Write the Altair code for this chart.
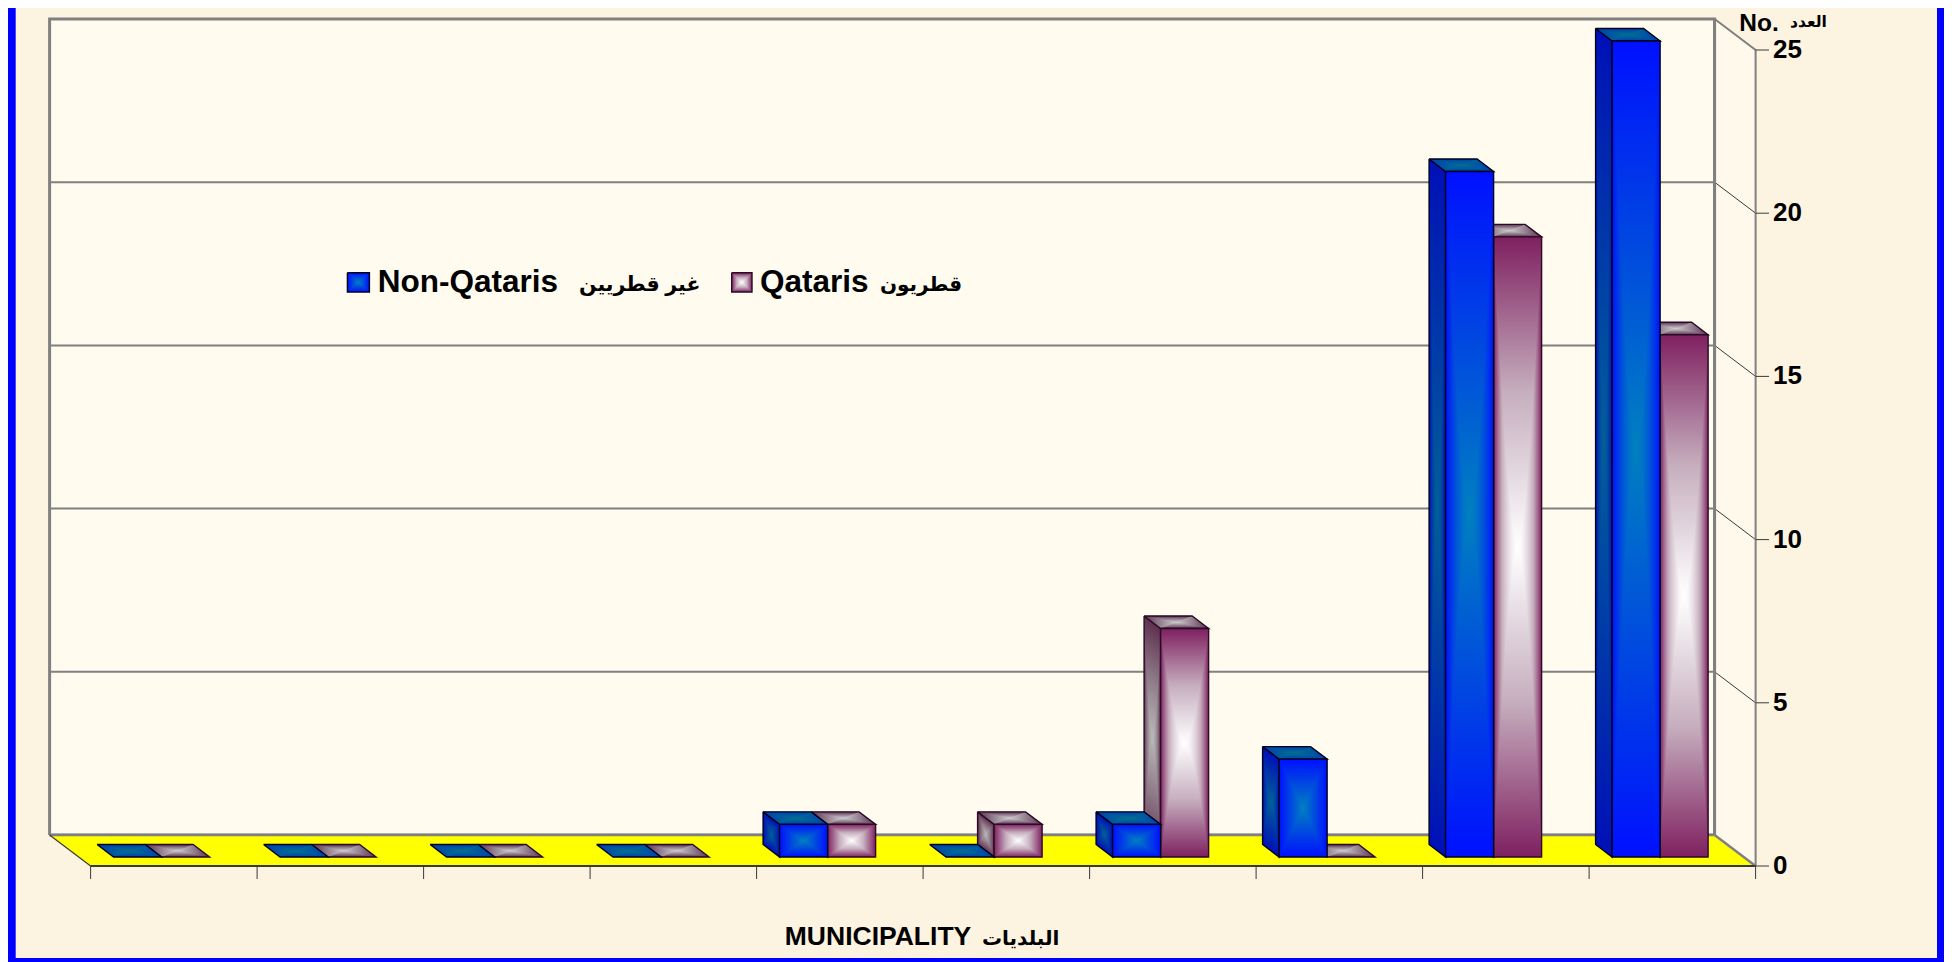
import altair as alt
import pandas as pd

# ---- values ----
non_qataris = [0, 0, 0, 0, 1, 0, 1, 3, 21, 25]
qataris = [0, 0, 0, 0, 1, 1, 7, 0, 19, 16]
y_ticks = [0, 5, 10, 15, 20, 25]
grid_ticks = [5, 10, 15, 20]
cat_edges = list(range(11))

# ---- projection of the pseudo-3D box (category units / value units) ----
PX = 166.5
PY = 32.64
X0, Y0 = 90.6, 866.0
W, H = 1936, 954


def ux(p):
    return (p - X0) / PX


def uy(p):
    return (Y0 - p) / PY


DX = 41.0 / PX
DY = 31.0 / PY
BDX = 16.5 / PX
BDY = 12.5 / PY
BASE = 9.0 / PY
XL, XM, XR = 23.0 / PX, 71.0 / PX, 119.0 / PX

xs = alt.Scale(domain=[ux(8), ux(8 + W)], range=[0, W], nice=False, zero=False)
ys = alt.Scale(domain=[uy(8 + H), uy(8)], range=[H, 0], nice=False, zero=False)

BG = "#FCF3E0"
WALL = "#FFFBEF"
GRAY = "#808080"
DARK = "#3A3A3A"
BLUE = "#0000FF"


def poly_df(polys):
    rows = []
    for k, pts in enumerate(polys):
        for i, (x, y) in enumerate(pts):
            rows.append({"id": k, "i": i, "x": x, "y": y})
    return pd.DataFrame(rows)


def line_layer(polys, **mark):
    return alt.Chart(poly_df(polys)).mark_line(**mark).encode(
        x=alt.X("x:Q", scale=xs, axis=None),
        y=alt.Y("y:Q", scale=ys, axis=None),
        detail="id:N",
        order=alt.Order("i:Q"),
    )


def mix(a, b, t):
    e = [int(a[i:i + 2], 16) for i in (1, 3, 5)]
    c = [int(b[i:i + 2], 16) for i in (1, 3, 5)]
    return "#%02X%02X%02X" % tuple(round(c[k] + (e[k] - c[k]) * t) for k in range(3))


def ramp(edge, mid, centre, t):
    """t = 1 at the edge of a face, 0 at its centre."""
    return mix(edge, mid, 2 * t - 1) if t >= 0.5 else mix(mid, centre, 2 * t)


def grad(stops, x1, y1, x2, y2):
    return alt.LinearGradient(
        gradient="linear", x1=x1, y1=y1, x2=x2, y2=y2,
        stops=[alt.GradientStop(color=c, offset=o) for o, c in stops],
    )


def onface(f, s, t):
    a, b = (s + 1) / 2, (t + 1) / 2
    tl, tr, br, bl = f
    top = (tl[0] + (tr[0] - tl[0]) * a, tl[1] + (tr[1] - tl[1]) * a)
    bot = (bl[0] + (br[0] - bl[0]) * a, bl[1] + (br[1] - bl[1]) * a)
    return (bot[0] + (top[0] - bot[0]) * b, bot[1] + (top[1] - bot[1]) * b)


def slant(f):
    """Slope of a face's top edge inside its bounding box (0 for level edges)."""
    drop = abs(f[0][1] - f[1][1]) * PY
    tall = abs(f[0][1] - f[3][1]) * PY + drop
    return round(drop / tall, 4) if tall > 0 else 0.0


def faces_group(faces, edge, mid, centre, p, a):
    """Rectangular-path gradient: a full-face gradient from top to bottom, then
    left and right wedges whose curved seams match it (|t| = |s|**p)."""
    n = 12
    half = [i / n for i in range(n + 1)]  # 0 at the edge, 1 at the centre
    k = (1 - a) / (1 + a * a)
    v = [(j / 8, ramp(edge, mid, centre, abs(1 - j / 4))) for j in range(9)]
    px, py = 0.5 + a * k / 2, a / 2 - k / 2 + (1 - a + a * a) / (2 * (1 + a * a)) * 0
    # gradient vector: from the top edge to the bottom edge, normal to both in box units
    x1, y1 = 0.5, a / 2
    x2, y2 = 0.5 - k * a, a / 2 + k
    out = [line_layer([f + [f[0]] for f in faces], fill=grad(v, x1, y1, x2, y2), strokeWidth=0)]
    regions = {"left": [], "right": []}
    for f in faces:
        for sign, key in ((-1, "left"), (1, "right")):
            lo = [onface(f, sign * (1 - h), -(1 - h) ** p) for h in half]
            hi = [onface(f, sign * (1 - h), (1 - h) ** p) for h in reversed(half)]
            regions[key].append([onface(f, sign, 1)] + lo + hi)
    horiz = [(h, ramp(edge, mid, centre, (1 - h) ** p)) for h in half]
    out.append(line_layer(regions["left"], fill=grad(horiz, 0, 0, 1, 0), strokeWidth=0))
    out.append(line_layer(regions["right"], fill=grad(horiz, 1, 0, 0, 0), strokeWidth=0))
    return out


def faces_layers(faces, edge, mid, centre, stroke):
    if not faces:
        return []
    groups = {}
    for f in faces:
        h = abs(f[0][1] - f[3][1]) * PY
        w = abs(f[1][0] - f[0][0]) * PX
        key = (1.6 if h >= 3 * w else 1.0, slant(f))
        groups.setdefault(key, []).append(f)
    out = []
    for (p, a), group in groups.items():
        out += faces_group(group, edge, mid, centre, p, a)
    out.append(line_layer([f + [f[0]] for f in faces], stroke=stroke, strokeWidth=1.4))
    return out


def bar_faces(values, xl, xr):
    side, top, front = [], [], []
    for c, v in enumerate(values):
        l, r, t = c + xl, c + xr, BASE + v
        top.append([(l - BDX, t + BDY), (r - BDX, t + BDY), (r, t), (l, t)])
        if v > 0:
            side.append([(l - BDX, t + BDY), (l, t), (l, BASE), (l - BDX, BASE + BDY)])
            front.append([(l, t), (r, t), (r, BASE), (l, BASE)])
    return side, top, front


def swatch(x0, x1, y0, y1):
    return [(ux(x0), uy(y0)), (ux(x1), uy(y0)), (ux(x1), uy(y1)), (ux(x0), uy(y1))]


def text_layer(text, px, py, size, baseline="alphabetic"):
    df = pd.DataFrame({"x": [ux(px)], "y": [uy(py)], "t": [text]})
    return alt.Chart(df).mark_text(
        font="Liberation Sans, DejaVu Sans", fontWeight="bold", fontSize=size,
        align="left", baseline=baseline, color="#000000",
    ).encode(x=alt.X("x:Q", scale=xs, axis=None), y=alt.Y("y:Q", scale=ys, axis=None), text="t:N")


layers = []

# page frame
frame = pd.DataFrame({
    "a": [ux(8), ux(1937), ux(8)],
    "b": [ux(15.7), ux(1944), ux(1944)],
    "c": [uy(962), uy(962), uy(962)],
    "d": [uy(8), uy(8), uy(958)],
})
layers.append(alt.Chart(frame).mark_rect(color=BLUE).encode(
    x=alt.X("a:Q", scale=xs, axis=None), x2="b:Q",
    y=alt.Y("c:Q", scale=ys, axis=None), y2="d:Q"))

# walls and floor
layers.append(line_layer([[(-DX, DY), (10 - DX, DY), (10 - DX, 25 + DY), (-DX, 25 + DY), (-DX, DY)]],
                         fill=WALL, stroke=GRAY, strokeWidth=3))
layers.append(line_layer([[(10 - DX, 25 + DY), (10, 25), (10, 0), (10 - DX, DY), (10 - DX, 25 + DY)]],
                         fill="#FFF9EC", strokeWidth=0))
layers.append(line_layer([[(-DX, DY), (10 - DX, DY), (10, 0), (0, 0), (-DX, DY)]],
                         fill="#FFFF00", strokeWidth=0))

# gridlines on back wall, then their diagonal return on the side wall
layers.append(line_layer([[(-DX, v + DY), (10 - DX, v + DY)] for v in grid_ticks], stroke=GRAY, strokeWidth=2))
layers.append(line_layer([[(10 - DX, v + DY), (10, v)] for v in grid_ticks], stroke=DARK, strokeWidth=1))

# box edges
layers.append(line_layer([[(-DX, DY), (10 - DX, DY)]], stroke=GRAY, strokeWidth=2.5))
layers.append(line_layer([[(10 - DX, 25 + DY), (10 - DX, DY)]], stroke=GRAY, strokeWidth=3))
layers.append(line_layer([[(10 - DX, 25 + DY), (10, 25), (10, 0)]], stroke=GRAY, strokeWidth=2))
layers.append(line_layer([[(10 - DX, DY), (10, 0)]], stroke=GRAY, strokeWidth=2.5))
layers.append(line_layer([[(-DX, DY), (0, 0)]], stroke=DARK, strokeWidth=1.2))
layers.append(line_layer([[(0, 0), (10, 0)]], stroke=DARK, strokeWidth=2))

# ticks
layers.append(line_layer([[(c, 0), (c, uy(879))] for c in cat_edges], stroke=DARK, strokeWidth=1))
layers.append(line_layer([[(10, v), (ux(1769), v)] for v in y_ticks], stroke=DARK, strokeWidth=1))

# bars: Qataris first, Non-Qataris in front of their side faces
q_side, q_top, q_front = bar_faces(qataris, XM, XR)
n_side, n_top, n_front = bar_faces(non_qataris, XL, XM)
q_front = q_front + [swatch(731.7, 752, 272.7, 292)]
n_front = n_front + [swatch(347.4, 369.4, 272.7, 292)]

layers += faces_layers(q_side, "#5F3050", "#8F7A88", "#B8B8B8", "#2A0A24")
layers += faces_layers(q_top, "#5A3050", "#948090", "#CCCCCC", "#2A0A24")
layers += faces_layers(q_front, "#7F2060", "#C6AEBE", "#FFFFFF", "#2A0A24")
layers += faces_layers(n_side, "#0010B8", "#0038A8", "#006098", "#000020")
layers += faces_layers(n_top, "#0040B0", "#0058A0", "#007090", "#000020")
layers += faces_layers(n_front, "#0010FF", "#0048E0", "#0080C0", "#000020")

# y tick labels
for v in y_ticks:
    layers.append(text_layer(str(v), 1773, Y0 - v * PY, 26, baseline="middle"))

# texts
layers.append(text_layer("Non-Qataris", 377.7, 291.7, 31.5))
layers.append(text_layer("غير قطريين", 579, 291, 20.5))
layers.append(text_layer("Qataris", 760, 291.7, 31.5))
layers.append(text_layer("قطريون", 880, 291, 20))
layers.append(text_layer("No.", 1739.3, 30.5, 24.5))
layers.append(text_layer("العدد", 1790, 27, 15.5))
layers.append(text_layer("MUNICIPALITY", 784.8, 945, 26.5))
layers.append(text_layer("البلديات", 982, 945, 20))

chart = alt.layer(*layers).properties(
    width=W, height=H, padding=0, background=BG,
    autosize=alt.AutoSizeParams(type="none"),
).configure_view(strokeWidth=0)

chart.save("out.html", embed_options={"renderer": "svg", "actions": False})
